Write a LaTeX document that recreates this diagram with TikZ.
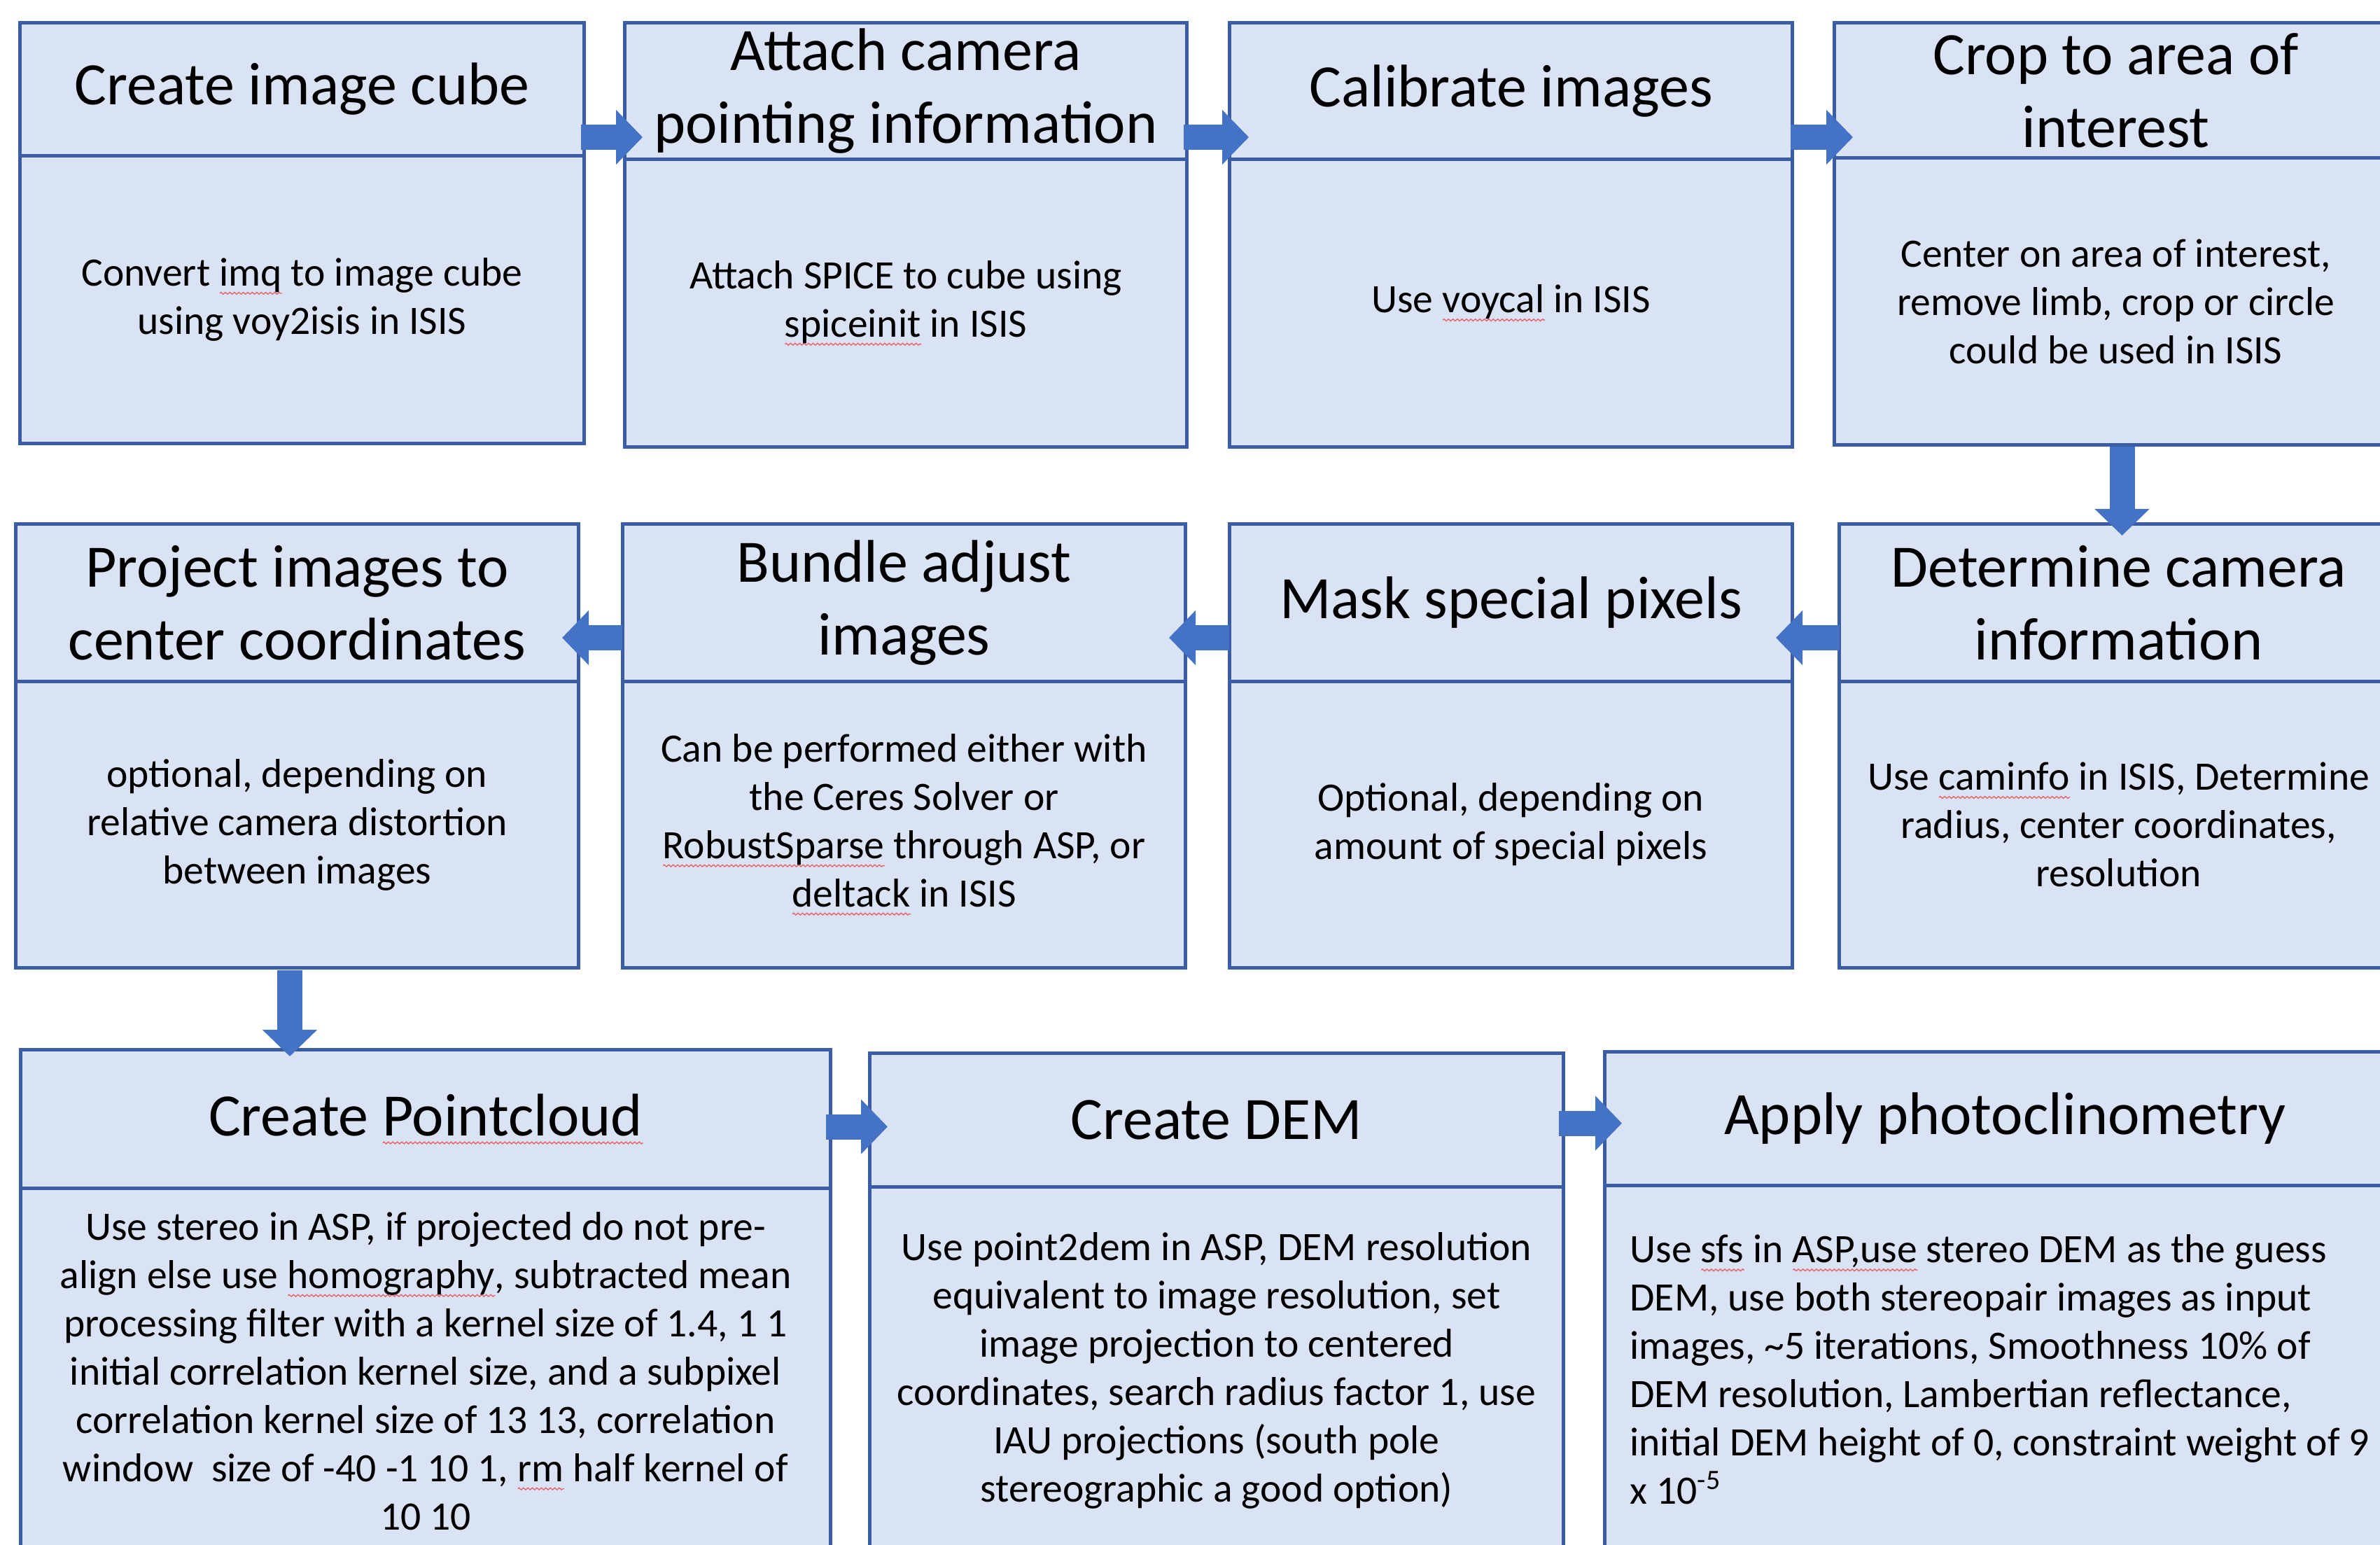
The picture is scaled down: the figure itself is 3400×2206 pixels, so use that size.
\documentclass[tikz,border=0pt]{standalone}
\usepackage{fontspec}
\setmainfont{Carlito}
\usetikzlibrary{arrows.meta,calc,decorations.pathmorphing}
\definecolor{boxfill}{HTML}{DAE3F3}
\definecolor{boxline}{HTML}{3A5DA5}
\definecolor{arrowblue}{HTML}{4472C4}
\definecolor{squig}{HTML}{E8646A}
\newsavebox\sqbox
\newlength\sqlen
\newcommand\sq[1]{\sbox\sqbox{#1}\setlength\sqlen{\wd\sqbox}\leavevmode\rlap{\tikz[baseline=0pt]\draw[squig,line width=0.35pt,decorate,decoration={zigzag,segment length=1.6pt,amplitude=0.35pt}] (0pt,-2.6pt) -- (\sqlen,-2.6pt);}\usebox\sqbox}
\begin{document}
\begin{tikzpicture}[x=0.25pt,y=-0.25pt,
  box/.style={draw=boxline, fill=boxfill, line width=1.25pt, rectangle, inner sep=0pt, anchor=north west, align=center},
  hdr/.style={box, font=\fontsize{21.5pt}{26pt}\selectfont},
  bdy/.style={box, font=\fontsize{14.4pt}{17.25pt}\selectfont},
  wh/.style 2 args={minimum width=#1*0.25pt, minimum height=#2*0.25pt},
  fat/.style={draw=arrowblue, line width=9pt, -{Triangle[width=19pt,length=9.5pt]}},
]
\useasboundingbox (0,0) rectangle (3400,2206);
\clip (0,0) rectangle (3400,2206);
\fill[white] (0,0) rectangle (3400,2206);

% Row 1
\node[hdr, wh={806}{190}] (h1) at (26,30) {Create image cube};
\node[bdy, wh={806}{411}] (b1) at (26,220) {Convert \sq{imq} to image cube\\using voy2isis in ISIS};
\node[hdr, wh={803}{195}] (h2) at (890,30) {Attach camera\\pointing information};
\node[bdy, wh={803}{411}] (b2) at (890,225) {Attach SPICE to cube using\\\sq{spiceinit} in ISIS};
\node[hdr, wh={804}{195}] (h3) at (1754,30) {Calibrate images};
\node[bdy, wh={804}{411}] (b3) at (1754,225) {Use \sq{voycal} in ISIS};
\node[hdr, wh={804}{193}] (h4) at (2618,30) {Crop to area of\\interest};
\node[bdy, wh={804}{410}] (b4) at (2618,223) {Center on area of interest,\\remove limb, crop or circle\\could be used in ISIS};

% Row 2
\node[hdr, wh={804}{225}] (h5) at (20,746) {Project images to\\center coordinates};
\node[bdy, wh={804}{409}] (b5) at (20,971) {optional, depending on\\relative camera distortion\\between images};
\node[hdr, wh={804}{225}] (h6) at (887,746) {Bundle adjust\\images};
\node[bdy, wh={804}{409}] (b6) at (887,971) {Can be performed either with\\the Ceres Solver or\\\sq{RobustSparse} through ASP, or\\\sq{deltack} in ISIS};
\node[hdr, wh={804}{225}] (h7) at (1754,746) {Mask special pixels};
\node[bdy, wh={804}{409}] (b7) at (1754,971) {Optional, depending on\\amount of special pixels};
\node[hdr, wh={798}{225}] (h8) at (2625,746) {Determine camera\\information};
\node[bdy, wh={798}{409}] (b8) at (2625,971) {Use \sq{caminfo} in ISIS, Determine\\radius, center coordinates,\\resolution};

% Row 3
\node[hdr, wh={1157}{198}] (h9) at (27,1497) {Create \sq{Pointcloud}};
\node[bdy, wh={1157}{522}] (b9) at (27,1695) {Use stereo in ASP, if projected do not pre-\\align else use \sq{homography}, subtracted mean\\processing filter with a kernel size of 1.4, 1 1\\initial correlation kernel size, and a subpixel\\correlation kernel size of 13 13, correlation\\window\ \ size of -40 -1 10 1, \sq{rm} half kernel of\\10 10};
\node[hdr, wh={991}{191}] (h10) at (1240,1502) {Create DEM};
\node[bdy, wh={991}{524}] (b10) at (1240,1693) {Use point2dem in ASP, DEM resolution\\equivalent to image resolution, set\\image projection to centered\\coordinates, search radius factor 1, use\\IAU projections (south pole\\stereographic a good option)};
\node[hdr, wh={1144}{191}] (h11) at (2290,1500) {Apply photoclinometry};
\node[bdy, wh={1144}{526}, align=flush left, text width=300pt, inner xsep=9pt] (b11) at (2290,1691) {Use \sq{sfs} in \sq{ASP,use} stereo DEM as the guess\\DEM, use both stereopair images as input\\images, \textasciitilde5 iterations, Smoothness 10\% of\\DEM resolution, Lambertian reflectance,\\initial DEM height of 0, constraint weight of 9\\x 10\textsuperscript{-5}};

% Arrows
\draw[fat] ($(h1.south east)+(-7,-29)$) -- ($(h2.south west)+(28,-34)$);
\draw[fat] ($(h2.south east)+(-7,-34)$) -- ($(h3.south west)+(30,-34)$);
\draw[fat] ($(h3.south east)+(-5,-34)$) -- ($(h4.south west)+(29,-32)$);
\draw[fat] ($(b4.south)+(9,0)$) -- ($(h8.north)+(5,19)$);
\draw[fat] ($(h8.south west)+(3,-65)$) -- ($(h7.south east)+(-26,-65)$);
\draw[fat] ($(h7.south west)+(2,-65)$) -- ($(h6.south east)+(-26,-65)$);
\draw[fat] ($(h6.south west)+(2,-65)$) -- ($(h5.south east)+(-26,-65)$);
\draw[fat] ($(b5.south west)+(394,1)$) -- ($(h9.north west)+(387,12)$);
\draw[fat] ($(h9.east)+(-9,11)$) -- ($(h10.west)+(28,9.5)$);
\draw[fat] ($(h10.east)+(-9,4.5)$) -- ($(h11.west)+(27,6.5)$);
\end{tikzpicture}
\end{document}
